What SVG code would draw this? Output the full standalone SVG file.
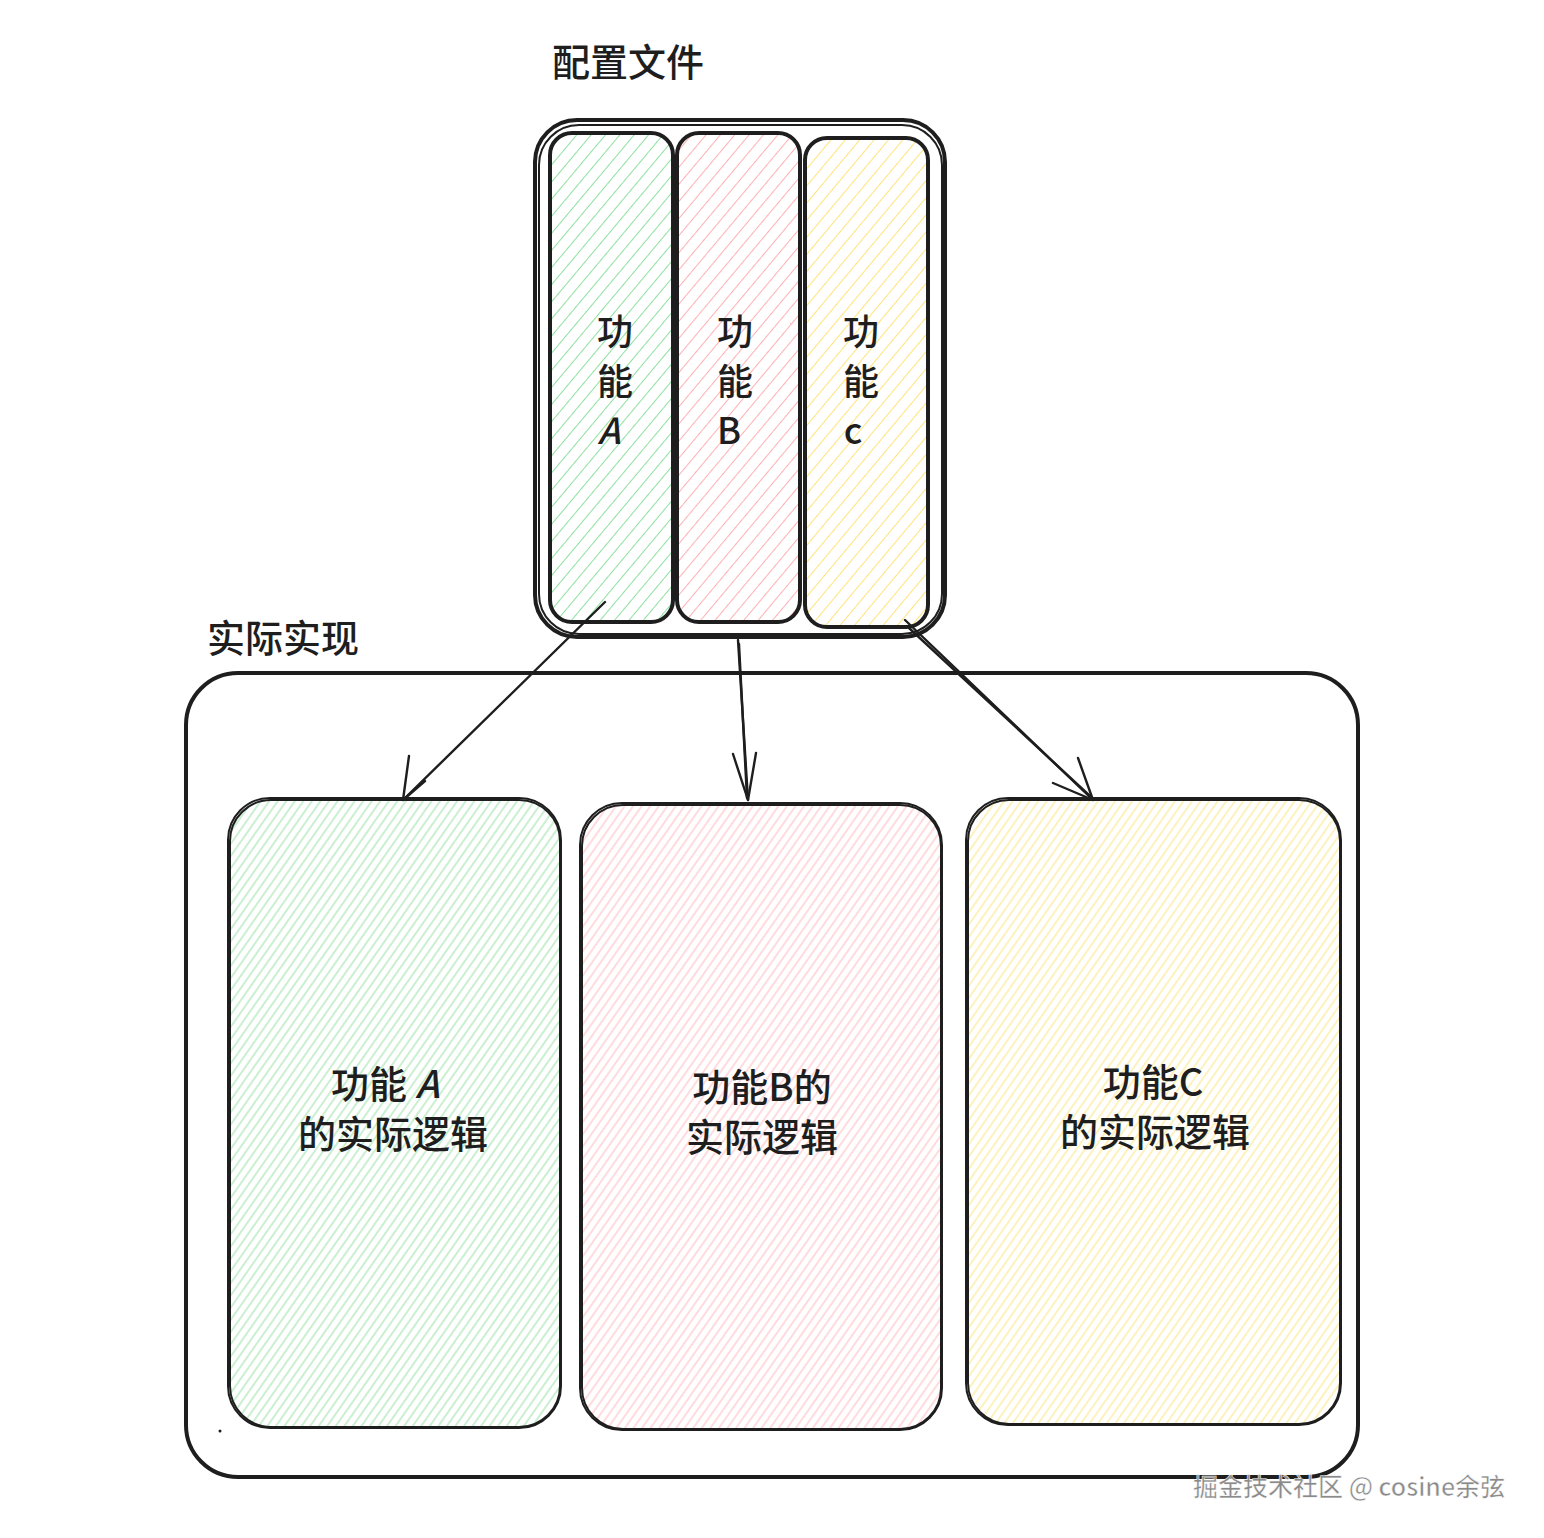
<svg xmlns="http://www.w3.org/2000/svg" width="1544" height="1538" viewBox="0 0 1544 1538">
<style>
.box{fill:none;stroke:#1e1e1e;stroke-width:4;stroke-linecap:round;stroke-linejoin:round}
.box2{fill:none;stroke:#1e1e1e;stroke-width:2;stroke-linecap:round}
.t{font-family:"Noto Sans CJK SC","Noto Sans",sans-serif;fill:#1e1e1e;font-weight:500}
.lbl{font-size:36px;text-anchor:middle}
.big{font-size:38px;text-anchor:middle}
.edge{fill:none;stroke:#1e1e1e;stroke-width:2.4;stroke-linecap:round;stroke-linejoin:round}
.wm{font-family:"Noto Sans CJK SC","Noto Sans",sans-serif;font-size:25px;fill:#8a8a8a;stroke:#ffffff;stroke-width:0.5;font-weight:500}
</style>
<defs>
<pattern id="hg" patternUnits="userSpaceOnUse" width="11" height="11" patternTransform="rotate(40)"><line x1="0" y1="0" x2="0" y2="11" stroke="#8fe0a0" stroke-width="2"/></pattern>
<pattern id="hp" patternUnits="userSpaceOnUse" width="11" height="11" patternTransform="rotate(40)"><line x1="0" y1="0" x2="0" y2="11" stroke="#ffb0b4" stroke-width="2"/></pattern>
<pattern id="hy" patternUnits="userSpaceOnUse" width="11" height="11" patternTransform="rotate(40)"><line x1="0" y1="0" x2="0" y2="11" stroke="#ffe37a" stroke-width="2"/></pattern>
<pattern id="sg" patternUnits="userSpaceOnUse" width="7" height="7" patternTransform="rotate(35)"><line x1="1" y1="0" x2="1" y2="7" stroke="#a6e4b2" stroke-width="1.2"/></pattern>
<pattern id="sp" patternUnits="userSpaceOnUse" width="7" height="7" patternTransform="rotate(35)"><line x1="1" y1="0" x2="1" y2="7" stroke="#ffc3c6" stroke-width="1.2"/></pattern>
<pattern id="sy" patternUnits="userSpaceOnUse" width="7" height="7" patternTransform="rotate(35)"><line x1="1" y1="0" x2="1" y2="7" stroke="#fbe790" stroke-width="1.2"/></pattern>
</defs>

<g id="title-config"><text class="t" x="628" y="76" font-size="38" text-anchor="middle">配置文件</text></g>
<g id="title-impl"><text class="t" x="283" y="652" font-size="38" text-anchor="middle">实际实现</text></g>

<g id="config-file">
<rect class="box" x="535" y="120" width="410" height="517" rx="42"/>
<rect class="box2" x="539" y="125" width="403" height="509" rx="40"/>
</g>

<g id="cfg-a">
<rect x="550" y="133" width="123" height="489" rx="22" fill="url(#hg)"/>
<rect class="box" x="550" y="133" width="123" height="489" rx="22"/>
<text class="t lbl" x="615" y="345">功</text>
<text class="t lbl" x="615" y="395">能</text>
<text class="t lbl" x="609" y="444" font-style="italic">A</text>
</g>
<g id="cfg-b">
<rect x="677" y="133" width="123" height="489" rx="22" fill="url(#hp)"/>
<rect class="box" x="677" y="133" width="123" height="489" rx="22"/>
<text class="t lbl" x="735" y="345">功</text>
<text class="t lbl" x="735" y="395">能</text>
<text class="t lbl" x="729" y="444">B</text>
</g>
<g id="cfg-c">
<rect x="805" y="138" width="123" height="489" rx="22" fill="url(#hy)"/>
<rect class="box" x="805" y="138" width="123" height="489" rx="22"/>
<text class="t lbl" x="861" y="345">功</text>
<text class="t lbl" x="861" y="395">能</text>
<text class="t lbl" x="853" y="444">c</text>
</g>

<g id="impl">
<rect class="box" x="186" y="673" width="1172" height="804" rx="52"/>
<circle cx="220" cy="1431" r="1.5" fill="#1e1e1e"/>
</g>

<g id="impl-a">
<rect x="228" y="798" width="333" height="630" rx="42" fill="url(#sg)"/>
<rect class="box2" x="228" y="798" width="333" height="630" rx="42"/>
<rect class="box2" x="230" y="800" width="330" height="627" rx="41"/>
<text class="t big" x="385" y="1098">功能 <tspan font-style="italic">A</tspan></text>
<text class="t big" x="393" y="1148">的实际逻辑</text>
</g>
<g id="impl-b">
<rect x="580" y="803" width="362" height="627" rx="42" fill="url(#sp)"/>
<rect class="box2" x="580" y="803" width="362" height="627" rx="42"/>
<rect class="box2" x="582" y="805" width="359" height="624" rx="41"/>
<text class="t big" x="762" y="1101">功能B的</text>
<text class="t big" x="762" y="1151">实际逻辑</text>
</g>
<g id="impl-c">
<rect x="966" y="798" width="375" height="627" rx="42" fill="url(#sy)"/>
<rect class="box2" x="966" y="798" width="375" height="627" rx="42"/>
<rect class="box2" x="968" y="800" width="372" height="624" rx="41"/>
<text class="t big" x="1153" y="1096">功能C</text>
<text class="t big" x="1155" y="1146">的实际逻辑</text>
</g>

<g id="connectors">
<path class="edge" d="M605 602 L403 800"/>
<path class="edge" d="M409 756 L403 800 L425 781"/>
<path class="edge" d="M738 640 L748 800"/>
<path class="edge" d="M739 644 L747 798"/>
<path class="edge" d="M733 754 L748 800 L756 753"/>
<path class="edge" d="M905 620 L1093 800"/>
<path class="edge" d="M909 628 L1090 796"/>
<path class="edge" d="M1078 758 L1093 800 L1053 783"/>
</g>

<g id="watermark"><text class="wm" x="1193" y="1496">掘金技术社区 @ cosine余弦</text></g>
</svg>
